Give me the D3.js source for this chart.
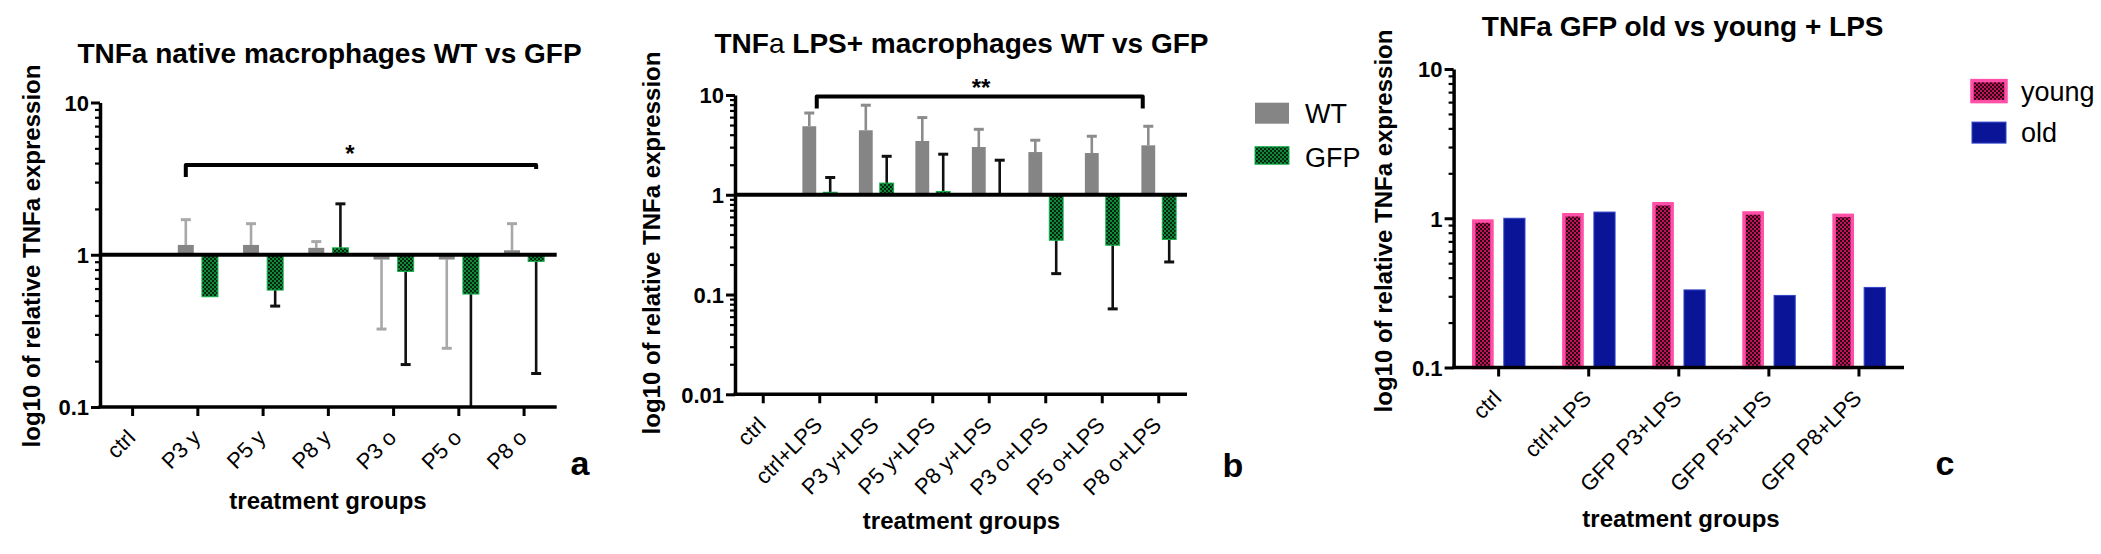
<!DOCTYPE html>
<html><head><meta charset="utf-8">
<script src="https://cdn.jsdelivr.net/npm/d3@7"></script>
<style>
html,body{margin:0;padding:0;background:#fff;}
svg{display:block;font-family:"Liberation Sans",Arial,Helvetica,sans-serif;}
</style></head>
<body><svg id="chart" width="2101" height="554"></svg>
<script>
// ---------- data ----------
const catsA = ["ctrl","P3 y","P5 y","P8 y","P3 o","P5 o","P8 o"];
const wtA     = [1, 1.16, 1.16, 1.11, 0.93, 0.93, 1.07];
const wtErrA  = [1, 1.70, 1.60, 1.22, 0.325, 0.243, 1.60];
const gfpA    = [1, 0.53, 0.586, 1.11, 0.777, 0.552, 0.904];
const gfpErrA = [1, 0.53, 0.46, 2.16, 0.19, 0.05, 0.166];

const catsB = ["ctrl","ctrl+LPS","P3 y+LPS","P5 y+LPS","P8 y+LPS","P3 o+LPS","P5 o+LPS","P8 o+LPS"];
const wtB     = [1, 4.86, 4.43, 3.46, 3.01, 2.68, 2.62, 3.13];
const wtErrB  = [1, 6.6, 7.9, 5.94, 4.53, 3.52, 3.86, 4.86];
const gfpB    = [1, 1.06, 1.31, 1.08, 1.02, 0.35, 0.312, 0.356];
const gfpErrB = [1, 1.49, 2.43, 2.55, 2.22, 0.162, 0.0718, 0.212];

const catsC  = ["ctrl","ctrl+LPS","GFP P3+LPS","GFP P5+LPS","GFP P8+LPS"];
const youngC = [0.98, 1.08, 1.28, 1.11, 1.07];
const oldC   = [1.0, 1.1, 0.331, 0.304, 0.344];

const yTicksA = [0.1, 1, 10];
const yTicksB = [0.01, 0.1, 1, 10];
const yTicksC = [0.1, 1, 10];
const legendB = ["WT","GFP"];
const legendC = ["young","old"];

// ---------- setup ----------
const svg = d3.select("#chart");
svg.append("rect").attr("width",2101).attr("height",554).attr("fill","#fff");
const defs = svg.append("defs");
function checker(id, base, dark, s){
  const p = defs.append("pattern").attr("id",id).attr("patternUnits","userSpaceOnUse")
    .attr("width",2*s).attr("height",2*s);
  p.append("rect").attr("width",2*s).attr("height",2*s).attr("fill",base);
  p.append("rect").attr("width",s).attr("height",s).attr("fill",dark);
  p.append("rect").attr("x",s).attr("y",s).attr("width",s).attr("height",s).attr("fill",dark);
}
checker("gfpPat","#0f8a3a","#05240f",2);
checker("youngPat","#c0125a","#2c0414",2);

const WT_FILL = "#858585", WT_ERR_A = "#a8a8a8", WT_ERR_B = "#8c8c8c";
const fmt = d => d===10?"10":d===1?"1":String(d);

function minorTicks(domain){
  const out=[];
  for(let e=Math.round(Math.log10(domain[0])); e<Math.round(Math.log10(domain[1])); e++){
    for(let k=2;k<=9;k++) out.push(k*Math.pow(10,e));
  }
  return out;
}

function drawAxes(cfg){
  const {x,y,ticks,x0,x1,yBottom} = cfg;
  // minor y ticks
  svg.append("g").attr("transform",`translate(${x0},0)`)
    .call(d3.axisLeft(y).tickValues(minorTicks(y.domain())).tickSize(5).tickFormat(""))
    .call(g=>g.select(".domain").remove())
    .call(g=>g.selectAll("line").attr("stroke","#000").attr("stroke-width",2.2));
  // major y ticks
  const gy = svg.append("g").attr("transform",`translate(${x0},0)`)
    .call(d3.axisLeft(y).tickValues(ticks).tickSize(9).tickSizeOuter(0).tickFormat(fmt));
  gy.select(".domain").attr("stroke","#000").attr("stroke-width",3.5);
  gy.selectAll("line").attr("stroke","#000").attr("stroke-width",3);
  gy.selectAll("text").attr("font-size",22).attr("font-weight","bold").attr("fill","#000")
    .attr("x",-11).attr("dy","0.36em");
  // x axis
  const gx = svg.append("g").attr("transform",`translate(0,${yBottom})`)
    .call(d3.axisBottom(x).tickSize(9).tickSizeOuter(0));
  gx.select(".domain").attr("stroke","#000").attr("stroke-width",3.5)
    .attr("d",`M${x0-1.5},0H${x1}`);
  gx.selectAll("line").attr("stroke","#000").attr("stroke-width",3);
  gx.selectAll("text").attr("font-size",22).attr("fill","#000")
    .attr("x",0).attr("y",0).attr("dy",0).attr("text-anchor","end")
    .attr("transform","translate(4,32) rotate(-45)");
}

function drawErr(xc, yFrom, yTo, color, capW, clipY){
  let clipped=false;
  if(clipY!==undefined && yTo>clipY){ yTo=clipY; clipped=true; }
  svg.append("line").attr("x1",xc).attr("x2",xc).attr("y1",yFrom).attr("y2",yTo)
    .attr("stroke",color).attr("stroke-width",2.6);
  if(!clipped) svg.append("line").attr("x1",xc-capW/2).attr("x2",xc+capW/2).attr("y1",yTo).attr("y2",yTo)
    .attr("stroke",color).attr("stroke-width",3);
}

function groupedPanel(cfg){
  const {cats, wt, wtErr, gfp, gfpErr, x0, x1, yTop, yBottom, domain, ticks, wtErrColor} = cfg;
  const x = d3.scaleBand().domain(cats).range([x0,x1]);
  const y = d3.scaleLog().domain(domain).range([yBottom,yTop]);
  const step = x.step(), bw = step*0.245, off = step*0.185;
  const y1 = y(1);
  // WT bars
  cats.forEach((c,i)=>{
    const xc = x(c)+step/2-off;
    if(wtErr[i]!==wt[i]) drawErr(xc, y(wt[i]), y(wtErr[i]), wtErrColor, 10, yBottom);
    if(wt[i]!==1) svg.append("rect").attr("x",xc-bw/2).attr("width",bw)
      .attr("y",Math.min(y(wt[i]),y1)).attr("height",Math.abs(y(wt[i])-y1)).attr("fill",WT_FILL);
  });
  cats.forEach((c,i)=>{
    const xc = x(c)+step/2+off;
    if(gfpErr[i]!==gfp[i]) drawErr(xc, y(gfp[i]), y(gfpErr[i]), "#111", 10, yBottom);
    if(gfp[i]!==1) svg.append("rect").attr("x",xc-bw/2).attr("width",bw)
      .attr("y",Math.min(y(gfp[i]),y1)).attr("height",Math.abs(y(gfp[i])-y1))
      .attr("fill","url(#gfpPat)").attr("stroke","#13b04c").attr("stroke-width",1);
  });
  // reference line at 1
  svg.append("line").attr("x1",x0).attr("x2",x1).attr("y1",y1).attr("y2",y1)
    .attr("stroke","#000").attr("stroke-width",4);
  drawAxes({x,y,ticks,x0,x1,yBottom});
  return {x,y,step,off};
}

function bracket(xl, xr, yb, dl, dr, label, labelX, labelY){
  svg.append("path").attr("d",`M${xl},${yb+dl}V${yb}H${xr}V${yb+dr}`)
    .attr("fill","none").attr("stroke","#000").attr("stroke-width",4).attr("stroke-linejoin","round");
  svg.append("text").attr("x",labelX).attr("y",labelY).attr("text-anchor","middle")
    .attr("font-size",24).attr("font-weight","bold").text(label);
}

function title(txt, cx, by){
  svg.append("text").attr("x",cx).attr("y",by).attr("text-anchor","middle")
    .attr("font-size",28).attr("font-weight","bold").text(txt);
}
function ylabel(cx, cy){
  svg.append("text").attr("transform",`translate(${cx},${cy}) rotate(-90)`)
    .attr("text-anchor","middle").attr("font-size",24).attr("font-weight","bold")
    .text("log10 of relative TNFa expression");
}
function xlabel(cx, by){
  svg.append("text").attr("x",cx).attr("y",by).attr("text-anchor","middle")
    .attr("font-size",24).attr("font-weight","bold").text("treatment groups");
}
function panelLetter(t, x, y){
  svg.append("text").attr("x",x).attr("y",y).attr("text-anchor","middle")
    .attr("font-size",34).attr("font-weight","bold").text(t);
}

// ---------- panel a ----------
const A = groupedPanel({cats:catsA, wt:wtA, wtErr:wtErrA, gfp:gfpA, gfpErr:gfpErrA,
  x0:100, x1:556.7, yTop:102.5, yBottom:407, domain:[0.1,10], ticks:yTicksA, wtErrColor:WT_ERR_A});
title("TNFa native macrophages WT vs GFP", 329.5, 63);
ylabel(40, 256);
xlabel(328, 509);
panelLetter("a", 580, 475);
bracket(A.x("P3 y")+A.step/2-A.off, A.x("P8 o")+A.step/2+A.off, 165, 12, 4, "*", 350, 162);

// ---------- panel b ----------
const B = groupedPanel({cats:catsB, wt:wtB, wtErr:wtErrB, gfp:gfpB, gfpErr:gfpErrB,
  x0:735, x1:1187, yTop:95, yBottom:394.3, domain:[0.01,10], ticks:yTicksB, wtErrColor:WT_ERR_B});
{
  const t = svg.append("text").attr("x",961.5).attr("y",53).attr("text-anchor","middle")
    .attr("font-size",28).attr("font-weight","bold");
  t.append("tspan").text("TNF");
  t.append("tspan").attr("font-weight","normal").text("a");
  t.append("tspan").text(" LPS+ macrophages WT vs GFP");
}
ylabel(660, 243);
xlabel(961.5, 529);
panelLetter("b", 1233, 477);
bracket(B.x("ctrl+LPS")+B.step/2-3, B.x("P8 o+LPS")+B.step/2-16, 96.5, 12, 12, "**", 981, 96);
// legend b
legendB.forEach((k,i)=>{
  const yy = 102.7 + i*44;
  svg.append("rect").attr("x",1255).attr("y",yy).attr("width",34).attr("height",i?17.5:21)
    .attr("fill", i? "url(#gfpPat)":WT_FILL).attr("stroke", i?"#13b04c":"none");
  svg.append("text").attr("x",1305).attr("y",yy+20).attr("font-size",27).text(k);
});

// ---------- panel c ----------
{
  const x0=1453.6, x1=1904, yTop=69, yBottom=367.5;
  const x = d3.scaleBand().domain(catsC).range([x0,x1]);
  const y = d3.scaleLog().domain([0.1,10]).range([yBottom,yTop]);
  const step=x.step(), bw=step*0.235, off=step*0.175;
  catsC.forEach((c,i)=>{
    const xc = x(c)+step/2-off;
    svg.append("rect").attr("x",xc-bw/2+1.5).attr("width",bw-3).attr("y",y(youngC[i])+1.5)
      .attr("height",yBottom-y(youngC[i])-1.5).attr("fill","url(#youngPat)")
      .attr("stroke","#ff4fa6").attr("stroke-width",3.5);
  });
  catsC.forEach((c,i)=>{
    const xc = x(c)+step/2+off;
    svg.append("rect").attr("x",xc-bw/2).attr("width",bw).attr("y",y(oldC[i]))
      .attr("height",yBottom-y(oldC[i])).attr("fill","#0a1496")
      .attr("stroke","#3344c8").attr("stroke-width",1);
  });
  drawAxes({x,y,ticks:yTicksC,x0,x1,yBottom});
  title("TNFa GFP old vs young + LPS", 1682.7, 36);
  ylabel(1392, 221);
  xlabel(1681, 527);
  panelLetter("c", 1945, 475);
  legendC.forEach((k,i)=>{
    const yy = 80.6 + i*41.5;
    svg.append("rect").attr("x",1972).attr("y",yy).attr("width",34).attr("height",21)
      .attr("fill", i? "#0a1496":"url(#youngPat)").attr("stroke", i?"#3344c8":"#ff4fa6")
      .attr("stroke-width", i?1:3.5);
    svg.append("text").attr("x",2021).attr("y",yy+20).attr("font-size",27).text(k);
  });
}
</script></body></html>
